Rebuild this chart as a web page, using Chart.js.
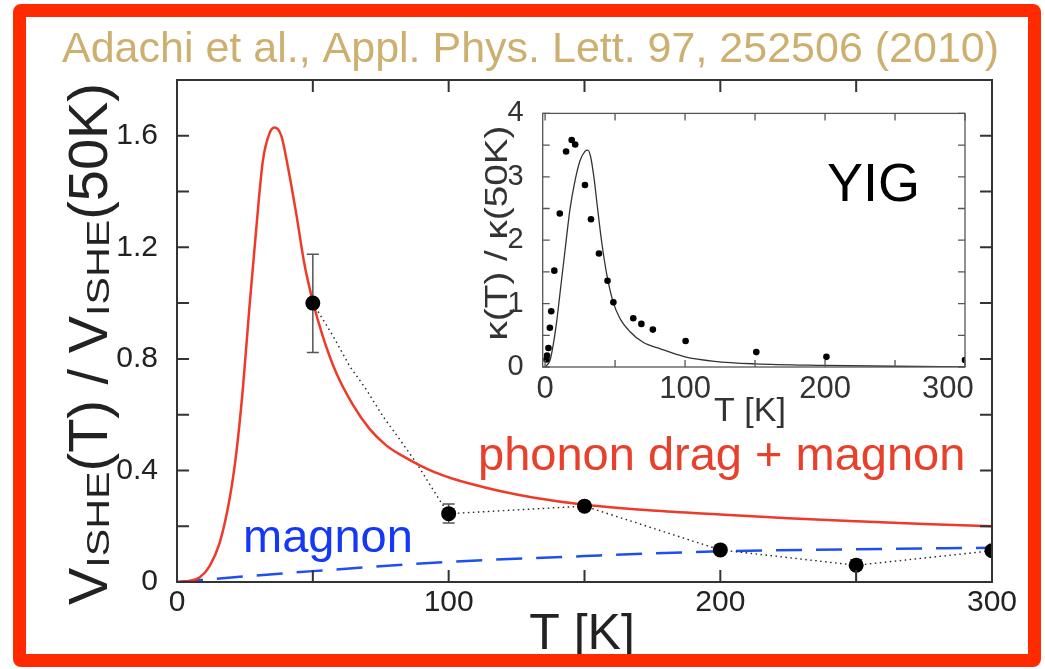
<!DOCTYPE html>
<html>
<head>
<meta charset="utf-8">
<script src="https://cdn.jsdelivr.net/npm/chart.js@4.4.1/dist/chart.umd.min.js"></script>
<style>
    html, body { margin: 0; padding: 0; background: #fff; }
    #wrap { position: relative; width: 1045px; height: 669px; overflow: hidden; background: #fff; }
    #main { position: absolute; left: 0; top: 0; }
    #inset { position: absolute; left: 460px; top: 85px; }
    #frame { position: absolute; left: 13px; top: 4px; width: 1028px; height: 663px; box-sizing: border-box;
             border: 13px solid #ff2a00; border-radius: 8px; pointer-events: none; }
</style>
</head>
<body>
<div id="wrap">
    <canvas id="main" width="1045" height="669"></canvas>
    <canvas id="inset" width="560" height="350"></canvas>
    <div id="frame"></div>
</div>
<script>
// main panel: V_ISHE(T) / V_ISHE(50K)
const phononT = [0, 4.7, 8.3, 12, 15.7, 19.4, 21.8, 24.3, 26.7, 29.2, 31.6, 34.1, 35.9, 38.4, 40.8, 43.9, 46.9, 50,
                 53.7, 58.6, 64.7, 70.8, 77, 83, 89, 95, 101, 108, 118, 131, 150, 175, 200, 225, 250, 275, 300];
const phononV = [0, 0.004, 0.016, 0.057, 0.14, 0.30, 0.46, 0.70, 0.99, 1.27, 1.51, 1.61, 1.63, 1.60, 1.49, 1.32, 1.14, 1.006,
                 0.88, 0.75, 0.636, 0.55, 0.49, 0.452, 0.42, 0.393, 0.372, 0.352, 0.328, 0.303, 0.277, 0.256, 0.242, 0.229, 0.218, 0.208, 0.20];
const magnonT = [0, 25, 50, 100, 150, 200, 250, 300];
const magnonV = [0, 0.02, 0.039, 0.072, 0.093, 0.11, 0.117, 0.123];
const measT = [50, 100, 150, 200, 250, 300];
const measV = [1.0, 0.245, 0.272, 0.115, 0.06, 0.112];
const errLo = [0.823, 0.212, null, null, 0.0, null];
const errHi = [1.175, 0.28, null, null, 0.08, null];
const guideT = [50, 57.5, 63.6, 69.7, 75.8, 82, 88.1, 94.2, 97.3, 100, 150, 200, 250, 300];
const guideV = [1.0, 0.881, 0.773, 0.69, 0.594, 0.511, 0.427, 0.332, 0.284, 0.245, 0.272, 0.115, 0.06, 0.112];
const mainXTicks = [0, 100, 200, 300];
const mainXMinor = [0, 50, 100, 150, 200, 250, 300];
const mainYTicks = [0, 0.4, 0.8, 1.2, 1.6];
const mainYLabels = ['0', '0.4', '0.8', '1.2', '1.6'];
const mainYMinor = [0, 0.2, 0.4, 0.6, 0.8, 1.0, 1.2, 1.4, 1.6, 1.8];

// inset: kappa(T) / kappa(50K)
const kappaT = [1.0, 1.4, 2.4, 3.4, 4.4, 6.6, 10.5, 15, 19, 21.5, 28.5, 32.8, 38.5, 44.6, 48.8, 63, 68.8, 77, 100.4, 150.9, 201, 300];
const kappaV = [0.12, 0.18, 0.30, 0.62, 0.88, 1.52, 2.42, 3.40, 3.58, 3.51, 2.87, 2.33, 1.79, 1.36, 1.02, 0.77, 0.68, 0.59, 0.41, 0.235, 0.16, 0.11];
const fitT = [0, 3.6, 5.9, 8.3, 10.7, 14.2, 17.8, 21.4, 24.9, 28.5, 30.5, 32.5, 34.9, 37.3, 40.4, 44, 48.7, 53.4, 60.5, 70, 81.9,
              100, 121, 150, 200, 250, 300];
const fitV = [0, 0.11, 0.36, 0.72, 1.17, 1.83, 2.49, 2.94, 3.25, 3.40, 3.42, 3.32, 2.99, 2.54, 1.98, 1.47, 1.02, 0.77, 0.56, 0.39, 0.29,
              0.16, 0.09, 0.05, 0.026, 0.012, 0.003];
const insetXTicks = [0, 100, 200, 300];
const insetXLabels = ['0', '100', '200', '300    ']; // last label pulled inside the box, as in the original
const insetXMinor = [0, 50, 100, 150, 200, 250, 300];
const insetYTicks = [0, 1, 2, 3, 4];
const insetYMinor = [0, 0.5, 1, 1.5, 2, 2.5, 3, 3.5, 4];

const FONT = "'Liberation Sans', Arial, Helvetica, sans-serif";
Chart.defaults.font.family = FONT;

const pts = (xs, ys) => xs.map((x, i) => ({ x: x, y: ys[i] }));

function boxPlugin(id, xMinor, yMinor, len, color, width) {
    return {
        id: id,
        afterDatasetsDraw(chart) {
            const ctx = chart.ctx, a = chart.chartArea, xs = chart.scales.x, ys = chart.scales.y;
            ctx.save();
            ctx.strokeStyle = color;
            ctx.lineWidth = width;
            ctx.strokeRect(a.left, a.top, a.right - a.left, a.bottom - a.top);
            ctx.beginPath();
            xMinor.forEach(v => {
                const px = xs.getPixelForValue(v);
                ctx.moveTo(px, a.bottom); ctx.lineTo(px, a.bottom - len);
                ctx.moveTo(px, a.top); ctx.lineTo(px, a.top + len);
            });
            yMinor.forEach(v => {
                const py = ys.getPixelForValue(v);
                ctx.moveTo(a.left, py); ctx.lineTo(a.left + len, py);
                ctx.moveTo(a.right, py); ctx.lineTo(a.right - len, py);
            });
            ctx.stroke();
            ctx.restore();
        }
    };
}

const errorBars = {
    id: 'errorBars',
    beforeDatasetsDraw(chart) {
        const ctx = chart.ctx, xs = chart.scales.x, ys = chart.scales.y;
        ctx.save();
        ctx.strokeStyle = '#555';
        ctx.lineWidth = 1.5;
        measT.forEach((t, i) => {
            if (errLo[i] === null) return;
            const px = xs.getPixelForValue(t);
            const lo = ys.getPixelForValue(errLo[i]), hi = ys.getPixelForValue(errHi[i]);
            ctx.beginPath();
            ctx.moveTo(px, lo); ctx.lineTo(px, hi);
            ctx.moveTo(px - 6, lo); ctx.lineTo(px + 6, lo);
            ctx.moveTo(px - 6, hi); ctx.lineTo(px + 6, hi);
            ctx.stroke();
        });
        ctx.restore();
    }
};

const mainText = {
    id: 'mainText',
    afterDraw(chart) {
        const ctx = chart.ctx;
        ctx.save();
        ctx.textBaseline = 'alphabetic';
        ctx.textAlign = 'left';
        ctx.fillStyle = '#cdb06f';
        ctx.font = '43px ' + FONT;
        ctx.fillText('Adachi et al., Appl. Phys. Lett. 97, 252506 (2010)', 62, 62);

        ctx.fillStyle = '#e8402a';
        ctx.font = '47px ' + FONT;
        ctx.fillText('phonon drag + magnon', 478, 470);
        ctx.fillStyle = '#1438f5';
        ctx.fillText('magnon', 243, 552);

        ctx.fillStyle = '#222';
        ctx.font = '50px ' + FONT;
        ctx.textAlign = 'center';
        ctx.fillText('T [K]', 582, 649);

        // y title with subscripts, rotated; subscripts are stretched along the baseline
        const segs = [['V', 0], ['ISHE', 1], ['(T) / ', 0], ['V', 0], ['ISHE', 1], ['(50K)', 0]];
        const big = '56px ' + FONT, small = '31px ' + FONT, subStretch = 1.33;
        const segW = s => { ctx.font = s[1] ? small : big; return ctx.measureText(s[0]).width * (s[1] ? subStretch : 1); };
        let total = 0;
        segs.forEach(s => { total += segW(s); });
        ctx.translate(107, 605);
        ctx.rotate(-Math.PI / 2);
        ctx.scale(522 / total, 1);
        ctx.textAlign = 'left';
        let off = 0;
        segs.forEach(s => {
            const w = segW(s);
            ctx.save();
            ctx.translate(off, s[1] ? 2 : 0);
            if (s[1]) ctx.scale(subStretch, 1);
            ctx.fillText(s[0], 0, 0);
            ctx.restore();
            off += w;
        });
        ctx.restore();
    }
};

new Chart(document.getElementById('main'), {
    type: 'scatter',
    data: {
        datasets: [
            { data: pts(measT, measV), pointRadius: 7.5, pointBackgroundColor: '#000', pointBorderWidth: 0, showLine: false },
            { data: pts(phononT, phononV), showLine: true, pointRadius: 0, borderColor: '#ee3a28', borderWidth: 2.5,
              cubicInterpolationMode: 'monotone' },
            { data: pts(guideT, guideV), showLine: true, pointRadius: 0, borderColor: '#222', borderWidth: 1.4,
              borderDash: [1.5, 3.5], tension: 0 },
            { data: pts(magnonT, magnonV), showLine: true, pointRadius: 0, borderColor: '#1e50f0', borderWidth: 2.5,
              borderDash: [26, 14], cubicInterpolationMode: 'monotone' }
        ]
    },
    options: {
        responsive: false,
        animation: false,
        layout: { padding: { left: 97, right: 53, top: 80, bottom: 27 } },
        plugins: { legend: { display: false }, tooltip: { enabled: false } },
        scales: {
            x: {
                type: 'linear', min: 0, max: 300,
                grid: { display: false }, border: { display: false },
                afterBuildTicks: s => { s.ticks = mainXTicks.map(v => ({ value: v })); },
                afterFit: s => { s.height = 60; },
                ticks: { font: { size: 30 }, color: '#222', padding: -5, maxRotation: 0, callback: v => String(v) }
            },
            y: {
                type: 'linear', min: 0, max: 1.8,
                grid: { display: false }, border: { display: false },
                afterBuildTicks: s => { s.ticks = mainYTicks.map(v => ({ value: v })); },
                afterFit: s => { s.width = 80; },
                ticks: { font: { size: 30 }, color: '#222', padding: 11, callback: (v, i) => mainYLabels[i] }
            }
        }
    },
    plugins: [errorBars, boxPlugin('mainBox', mainXMinor, mainYMinor, 12, '#333', 2), mainText]
});

const insetText = {
    id: 'insetText',
    afterDraw(chart) {
        const ctx = chart.ctx;
        ctx.save();
        ctx.fillStyle = '#000';
        ctx.textBaseline = 'alphabetic';
        ctx.textAlign = 'left';
        ctx.font = '54px ' + FONT;
        ctx.fillText('YIG', 367, 116);

        ctx.fillStyle = '#333';
        ctx.font = '34px ' + FONT;
        ctx.textAlign = 'center';
        ctx.fillText('T [K]', 290, 336);

        ctx.font = '32px ' + FONT;
        const label = 'κ(T) / κ(50K)';
        const w = ctx.measureText(label).width;
        ctx.translate(47, 148);
        ctx.rotate(-Math.PI / 2);
        ctx.scale(215 / w, 1);
        ctx.fillText(label, 0, 0);
        ctx.restore();
    }
};

new Chart(document.getElementById('inset'), {
    type: 'scatter',
    data: {
        datasets: [
            { data: pts(kappaT, kappaV), pointRadius: 3.3, pointBackgroundColor: '#000', pointBorderWidth: 0, showLine: false },
            { data: pts(fitT, fitV), showLine: true, pointRadius: 0, borderColor: '#333', borderWidth: 1.3,
              cubicInterpolationMode: 'monotone' }
        ]
    },
    options: {
        responsive: false,
        animation: false,
        layout: { padding: { left: 37.7, right: 55, top: 19, bottom: 18 } },
        plugins: { legend: { display: false }, tooltip: { enabled: false } },
        scales: {
            x: {
                type: 'linear', min: -1.7, max: 300,
                grid: { display: false }, border: { display: false },
                afterBuildTicks: s => { s.ticks = insetXTicks.map(v => ({ value: v })); },
                afterFit: s => { s.height = 50; },
                ticks: { font: { size: 31 }, color: '#333', padding: -4, maxRotation: 0, callback: (v, i) => insetXLabels[i] }
            },
            y: {
                type: 'linear', min: 0, max: 4,
                grid: { display: false }, border: { display: false },
                afterBuildTicks: s => { s.ticks = insetYTicks.map(v => ({ value: v })); },
                afterFit: s => { s.width = 45; },
                ticks: { font: { size: 29 }, color: '#333', padding: 11, callback: v => String(v) }
            }
        }
    },
    plugins: [boxPlugin('insetBox', insetXMinor, insetYMinor, 7, '#555', 1.3), insetText]
});
</script>
</body>
</html>
